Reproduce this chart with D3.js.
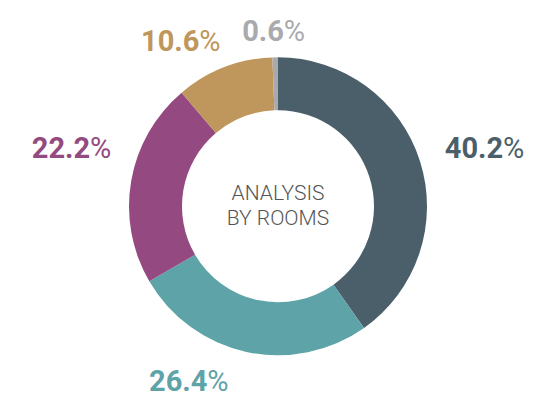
<!DOCTYPE html>
<html>
<head>
<meta charset="utf-8">
<script src="https://cdn.jsdelivr.net/npm/d3@7"></script>
<style>
  html, body { margin: 0; padding: 0; background: #ffffff; }
  svg { display: block; }
</style>
</head>
<body>
<svg id="chart" width="559" height="399"></svg>
<script>
// Share of analysis by room, clockwise from 12 o'clock
const categories = ["A", "B", "C", "D", "E"];
const shares = [40.2, 26.4, 22.2, 10.6, 0.6];
const labels = ["40.2", "26.4", "22.2", "10.6", "0.6"];
const colors = ["#4b5f6b", "#5ea3a8", "#944a80", "#bf965b", "#a9aaad"];
const centerLines = ["ANALYSIS", "BY ROOMS"];

// Label placement tweaks around the label ring (pixels)
const labelNudge = {
  A: [35, -4],
  B: [-51, -2],
  C: [-29, -28],
  D: [-32, 2],
  E: [-1, 4]
};

const W = 559, H = 399;
const cx = 278, cy = 206.3;
const outerR = 149, innerR = 96, labelR = 180;

const svg = d3.select("#chart");
const g = svg.append("g").attr("transform", `translate(${cx},${cy})`);

const data = categories.map((c, i) => ({ key: c, value: shares[i], label: labels[i], color: colors[i] }));

const pie = d3.pie().value(d => d.value).sort(null).startAngle(0).endAngle(2 * Math.PI);
const arcs = pie(data);

const arc = d3.arc().innerRadius(innerR).outerRadius(outerR);
const labelArc = d3.arc().innerRadius(labelR).outerRadius(labelR);

g.selectAll("path.slice")
  .data(arcs)
  .join("path")
  .attr("class", "slice")
  .attr("d", arc)
  .attr("fill", d => d.data.color);

const lbl = g.selectAll("text.pct")
  .data(arcs)
  .join("text")
  .attr("class", "pct")
  .attr("text-anchor", "middle")
  .attr("font-family", "Roboto, 'Noto Sans', sans-serif")
  .attr("font-size", 29)
  .attr("fill", d => d.data.color)
  .attr("transform", d => {
    const [x, y] = labelArc.centroid(d);
    const [dx, dy] = labelNudge[d.data.key];
    return `translate(${x + dx},${y + dy})`;
  })
  .attr("dy", "0.36em");

lbl.append("tspan").attr("font-weight", 700).text(d => d.data.label);
lbl.append("tspan").attr("font-weight", 400).text("%");

const center = g.append("text")
  .attr("text-anchor", "middle")
  .attr("font-family", "Roboto, 'Noto Sans', sans-serif")
  .attr("font-size", 21)
  .attr("font-weight", 300)
  .attr("fill", "#555555");

center.selectAll("tspan")
  .data(centerLines)
  .join("tspan")
  .attr("x", 0)
  .attr("y", (d, i) => -6.5 + i * 25.5)
  .text(d => d);
</script>
</body>
</html>
